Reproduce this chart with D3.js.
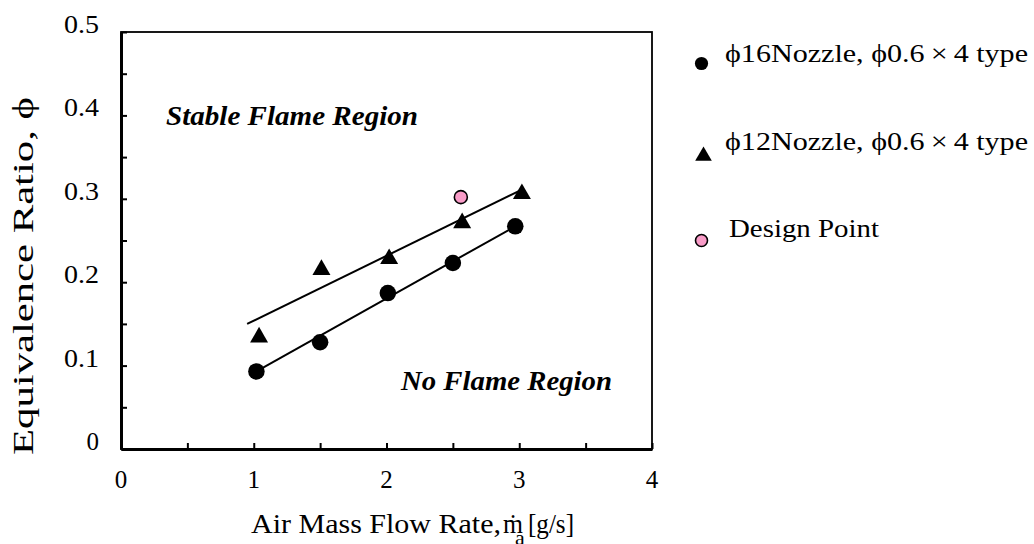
<!DOCTYPE html>
<html><head><meta charset="utf-8">
<script src="https://cdn.jsdelivr.net/npm/d3@7"></script>
<style>
html,body{margin:0;padding:0;background:#fff;}
svg{display:block;}
text{font-family:"Liberation Serif","Times New Roman",Tinos,serif;fill:#000;}
</style></head>
<body>
<svg id="chart" width="1034" height="544" font-family="Liberation Serif, Times New Roman, serif"></svg>
<script>
// ---- data ----
const xTickValues = [0, 1, 2, 3, 4];
const xTickLabels = ["0", "1", "2", "3", "4"];
const yTickValues = [0, 0.1, 0.2, 0.3, 0.4, 0.5];
const yTickLabels = ["0", "0.1", "0.2", "0.3", "0.4", "0.5"];
const nozzle16X = [1.02, 1.50, 2.01, 2.50, 2.97];
const nozzle16Y = [0.093, 0.128, 0.187, 0.223, 0.267];
const nozzle12X = [1.04, 1.51, 2.02, 2.57, 3.02];
const nozzle12Y = [0.134, 0.215, 0.228, 0.271, 0.306];
const designX = [2.56];
const designY = [0.302];
const fit16X = [1.02, 2.97];
const fit16Y = [0.093, 0.267];
const fit12X = [0.95, 3.02];
const fit12Y = [0.150, 0.311];
const legendLabels = ["\u03D516Nozzle,  \u03D50.6\u2009\u00D7\u20094 type", "\u03D512Nozzle,  \u03D50.6\u2009\u00D7\u20094 type", "Design Point"];

// ---- layout ----
const svg = d3.select("#chart");
const x = d3.scaleLinear().domain([0, 4]).range([121, 652]);
const y = d3.scaleLinear().domain([0, 0.5]).range([449, 32]);

// frame (top/right thin)
svg.append("rect").attr("x", x(0)).attr("y", y(0.5))
  .attr("width", x(4) - x(0)).attr("height", y(0) - y(0.5))
  .attr("fill", "none").attr("stroke", "#000").attr("stroke-width", 1.8);

// bottom axis ticks (inward)
const gx = svg.append("g").attr("transform", `translate(0,${y(0)})`)
  .call(d3.axisBottom(x).tickValues(d3.range(0, 4.001, 0.5)).tickSize(-6).tickSizeOuter(0).tickFormat(""));
gx.select(".domain").attr("stroke-width", 3.2);
gx.selectAll(".tick line").attr("stroke-width", 2);

// left axis ticks (inward)
const gy = svg.append("g").attr("transform", `translate(${x(0)},0)`)
  .call(d3.axisLeft(y).tickValues(d3.range(0, 0.5001, 0.05)).tickSize(-6).tickSizeOuter(0).tickFormat(""));
gy.select(".domain").attr("stroke-width", 3);
gy.selectAll(".tick line").attr("stroke-width", 2);

// tick labels
svg.selectAll("text.xt").data(xTickValues).join("text").attr("class", "xt")
  .attr("x", d => x(d)).attr("y", 488).attr("text-anchor", "middle")
  .attr("font-size", 25).text((d, i) => xTickLabels[i]);

svg.selectAll("text.yt").data(yTickValues).join("text").attr("class", "yt")
  .attr("x", 99).attr("y", d => y(d) + 1).attr("text-anchor", "end")
  .attr("font-size", 25)
  .each(function(d, i) {
    const t = d3.select(this).text(yTickLabels[i]);
    if (yTickLabels[i].length > 1) t.attr("textLength", 35).attr("lengthAdjust", "spacingAndGlyphs");
  });

// axis titles
svg.append("text").attr("transform", "translate(33,276) rotate(-90)")
  .attr("text-anchor", "middle").attr("font-size", 29)
  .attr("textLength", 358).attr("lengthAdjust", "spacingAndGlyphs")
  .text("Equivalence Ratio, \u03D5");

svg.append("text").attr("x", 251).attr("y", 533).attr("font-size", 28)
  .attr("textLength", 250).attr("lengthAdjust", "spacingAndGlyphs")
  .text("Air Mass Flow Rate,");
svg.append("text").attr("x", 503).attr("y", 533).attr("font-size", 28)
  .attr("textLength", 20).attr("lengthAdjust", "spacingAndGlyphs").text("\u1E41");
svg.append("text").attr("x", 515).attr("y", 545).attr("font-size", 22).text("a");
svg.append("text").attr("x", 528).attr("y", 533).attr("font-size", 28)
  .attr("textLength", 46).attr("lengthAdjust", "spacingAndGlyphs").text("[g/s]");

// region labels
svg.append("text").attr("x", 166).attr("y", 125).attr("font-size", 28)
  .attr("font-weight", "bold").attr("font-style", "italic")
  .attr("textLength", 252).attr("lengthAdjust", "spacingAndGlyphs").text("Stable Flame Region");
svg.append("text").attr("x", 401).attr("y", 390).attr("font-size", 28)
  .attr("font-weight", "bold").attr("font-style", "italic")
  .attr("textLength", 211).attr("lengthAdjust", "spacingAndGlyphs").text("No Flame Region");

// fit lines
const line = d3.line().x(d => x(d[0])).y(d => y(d[1]));
svg.append("path").datum(d3.zip(fit16X, fit16Y)).attr("d", line)
  .attr("fill", "none").attr("stroke", "#000").attr("stroke-width", 2);
svg.append("path").datum(d3.zip(fit12X, fit12Y)).attr("d", line)
  .attr("fill", "none").attr("stroke", "#000").attr("stroke-width", 2);

// markers
const circ = d3.symbol().type(d3.symbolCircle).size(215);
const tri = d3.symbol().type(d3.symbolTriangle).size(140);
svg.selectAll("path.n16").data(d3.zip(nozzle16X, nozzle16Y)).join("path").attr("class", "n16")
  .attr("transform", d => `translate(${x(d[0])},${y(d[1])})`).attr("d", circ).attr("fill", "#000");
svg.selectAll("path.n12").data(d3.zip(nozzle12X, nozzle12Y)).join("path").attr("class", "n12")
  .attr("transform", d => `translate(${x(d[0])},${y(d[1])})`).attr("d", tri).attr("fill", "#000");
svg.selectAll("circle.dp").data(d3.zip(designX, designY)).join("circle").attr("class", "dp")
  .attr("cx", d => x(d[0])).attr("cy", d => y(d[1])).attr("r", 6.5)
  .attr("fill", "#f99cc8").attr("stroke", "#000").attr("stroke-width", 1.6);

// legend
svg.append("circle").attr("cx", 701.5).attr("cy", 63.5).attr("r", 6.6).attr("fill", "#000");
svg.append("path").attr("transform", "translate(703.5,156)")
  .attr("d", d3.symbol().type(d3.symbolTriangle).size(120)()).attr("fill", "#000");
svg.append("circle").attr("cx", 701.5).attr("cy", 240.5).attr("r", 6)
  .attr("fill", "#f99cc8").attr("stroke", "#000").attr("stroke-width", 1.6);
const legY = [62, 150, 237];
const legW = [303, 303, 150];
svg.selectAll("text.leg").data(legendLabels).join("text").attr("class", "leg")
  .attr("x", (d, i) => i === 2 ? 729 : 725).attr("y", (d, i) => legY[i])
  .attr("font-size", 26).attr("textLength", (d, i) => legW[i]).attr("lengthAdjust", "spacingAndGlyphs")
  .text(d => d);
</script>
</body></html>
